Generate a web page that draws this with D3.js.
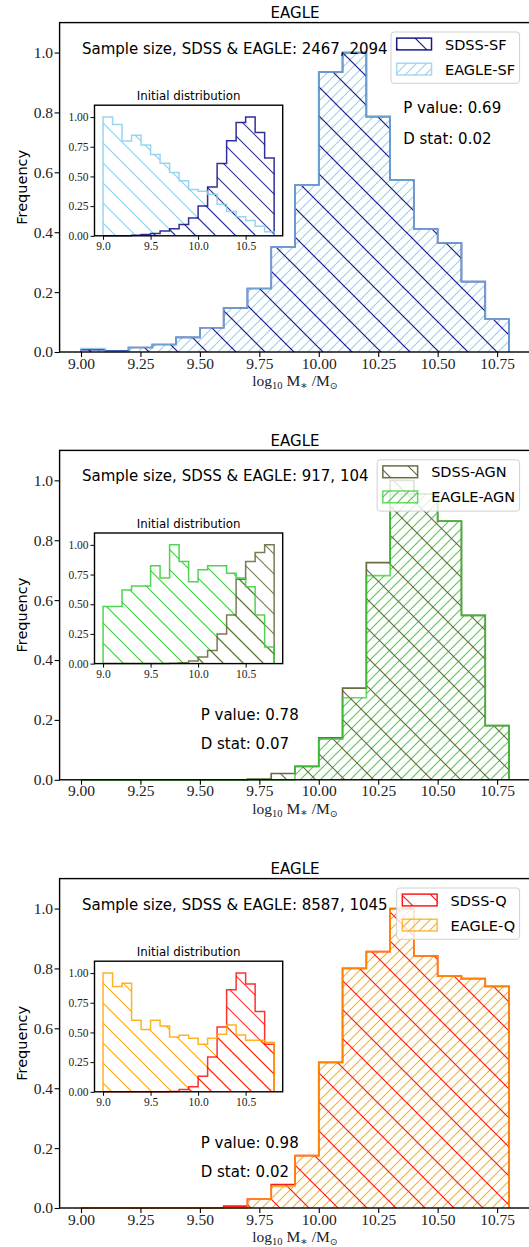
<!DOCTYPE html>
<html>
<head>
<meta charset="utf-8">
<script src="https://cdn.jsdelivr.net/npm/d3@7"></script>
<style>
  html, body { margin: 0; padding: 0; background: #fff; }
  svg { display: block; }
</style>
</head>
<body>
<svg id="fig" width="529" height="1247"></svg>
<script>
// ---- data -------------------------------------------------------------
// left edges of the 0.1 dex stellar-mass bins
const binStarts = [9.0, 9.1, 9.2, 9.3, 9.4, 9.5, 9.6, 9.7, 9.8, 9.9,
                   10.0, 10.1, 10.2, 10.3, 10.4, 10.5, 10.6, 10.7];
const binWidth = 0.1;

// star-forming: matched samples (main) and initial distributions (inset)
const sfSdssMain  = [0.008, 0.004, 0.015, 0.025, 0.049, 0.081, 0.147, 0.212, 0.350, 0.557,
                     0.935, 1.000, 0.786, 0.574, 0.410, 0.364, 0.235, 0.110];
const sfEagleMain = [0.011, 0.002, 0.015, 0.025, 0.049, 0.081, 0.147, 0.212, 0.350, 0.557,
                     0.935, 1.000, 0.786, 0.574, 0.410, 0.364, 0.235, 0.110];
const sfSdssInit  = [0.0, 0.001, 0.001, 0.005, 0.010, 0.020, 0.040, 0.060, 0.095, 0.150,
                     0.250, 0.410, 0.610, 0.800, 0.955, 1.000, 0.870, 0.655];
const sfEagleInit = [1.000, 0.938, 0.798, 0.846, 0.764, 0.684, 0.612, 0.534, 0.463, 0.391,
                     0.376, 0.350, 0.266, 0.204, 0.160, 0.128, 0.080, 0.035];

// AGN
const agnSdssMain  = [0, 0, 0, 0, 0, 0, 0, 0.002, 0.021, 0.045,
                      0.140, 0.306, 0.725, 1.000, 0.955, 0.864, 0.549, 0.181];
const agnEagleMain = [0, 0, 0, 0, 0, 0, 0, 0, 0, 0.045,
                      0.136, 0.274, 0.682, 0.955, 0.955, 0.864, 0.549, 0.181];
const agnSdssInit  = [0, 0, 0, 0, 0, 0, 0, 0.002, 0.008, 0.022,
                      0.056, 0.110, 0.250, 0.410, 0.710, 0.860, 0.936, 1.000];
const agnEagleInit = [0.480, 0.480, 0.620, 0.654, 0.654, 0.824, 0.720, 1.000, 0.860, 0.690,
                      0.790, 0.824, 0.824, 0.760, 0.720, 0.648, 0.410, 0.140];

// quenched
const qSdssMain  = [0, 0, 0, 0, 0, 0, 0.006, 0.030, 0.078, 0.175,
                    0.486, 0.800, 0.856, 1.000, 0.842, 0.774, 0.766, 0.740];
const qEagleMain = [0, 0, 0, 0, 0, 0, 0, 0.030, 0.072, 0.175,
                    0.486, 0.800, 0.856, 1.000, 0.842, 0.774, 0.766, 0.740];
const qSdssInit  = [0, 0, 0, 0, 0, 0, 0, 0.003, 0.020, 0.042,
                    0.130, 0.293, 0.546, 0.859, 1.000, 0.907, 0.676, 0.400];
const qEagleInit = [1.000, 0.887, 0.915, 0.603, 0.524, 0.603, 0.555, 0.462, 0.476, 0.451,
                    0.400, 0.451, 0.485, 0.563, 0.479, 0.434, 0.434, 0.417];

const mainXTicks = [9.00, 9.25, 9.50, 9.75, 10.00, 10.25, 10.50, 10.75];
const mainYTicks = [0.0, 0.2, 0.4, 0.6, 0.8, 1.0];
const insetXTicks = [9.0, 9.5, 10.0, 10.5];
const insetYTicks = [0.00, 0.25, 0.50, 0.75, 1.00];

const panelTitle = "EAGLE";
const insetTitle = "Initial distribution";
const yLabel = "Frequency";

const sampleTexts = ["Sample size, SDSS & EAGLE: 2467, 2094",
                     "Sample size, SDSS & EAGLE: 917, 104",
                     "Sample size, SDSS & EAGLE: 8587, 1045"];
const pValueTexts = ["P value: 0.69", "P value: 0.78", "P value: 0.98"];
const dStatTexts  = ["D stat: 0.02", "D stat: 0.07", "D stat: 0.02"];
const legendNames = [["SDSS-SF", "EAGLE-SF"], ["SDSS-AGN", "EAGLE-AGN"], ["SDSS-Q", "EAGLE-Q"]];

// ---- layout / style ----------------------------------------------------
const SANS = "'DejaVu Sans', sans-serif";
const SERIF = "'Liberation Serif', 'DejaVu Serif', serif";
const AX_L = 59.6, AX_R = 530.4, AX_H = 329.4;
const X_DOMAIN = [8.91, 10.89], Y_DOMAIN = [0, 1.1];
const IN_L = 94.5, IN_R = 282.7, IN_TOP = 82.6, IN_H = 130.6;

const panels = [
  { top: 22.6, sdss: sfSdssMain, eagle: sfEagleMain, sdssInit: sfSdssInit, eagleInit: sfEagleInit,
    sdssColor: "#000080", eagleColor: "#87ceeb", statX: 403.2, statY: [90.8, 121.1] },
  { top: 450.4, sdss: agnSdssMain, eagle: agnEagleMain, sdssInit: agnSdssInit, eagleInit: agnEagleInit,
    sdssColor: "#5a5c2c", eagleColor: "#32cd32", statX: 200.7, statY: [269.3, 299.0] },
  { top: 878.6, sdss: qSdssMain, eagle: qEagleMain, sdssInit: qSdssInit, eagleInit: qEagleInit,
    sdssColor: "#ff0000", eagleColor: "#ffa500", statX: 200.7, statY: [269.0, 298.7] }
];
panels.forEach((p, i) => {
  p.sample = sampleTexts[i]; p.pval = pValueTexts[i]; p.dstat = dStatTexts[i]; p.names = legendNames[i];
});

const SDSS_ALPHA = 0.9, EAGLE_ALPHA = 0.75, EAGLE_HATCH_ALPHA = 0.9;
const MAIN_BACK = 29, MAIN_FWD = 10, INSET_BACK = 20;

const svg = d3.select("#fig");
const defs = svg.append("defs");

// diagonal hatch patterns: 'back' = "\" lines, 'fwd' = "/" lines
function hatch(id, color, s, dir, width) {
  const p = defs.append("pattern").attr("id", id)
    .attr("patternUnits", "userSpaceOnUse")
    .attr("width", s).attr("height", s);
  const d = dir === "back"
    ? `M${-s / 2},${s / 2}L${s / 2},${1.5 * s}M0,0L${s},${s}M${s / 2},${-s / 2}L${1.5 * s},${s / 2}`
    : `M${-s / 2},${s / 2}L${s / 2},${-s / 2}M0,${s}L${s},0M${s / 2},${1.5 * s}L${1.5 * s},${s / 2}`;
  p.append("path").attr("d", d).attr("fill", "none")
    .attr("stroke", color).attr("stroke-width", width);
  return `url(#${id})`;
}

// outline of a step histogram (open at the baseline)
function stepPoints(values, x, y) {
  const pts = [[x(binStarts[0]), y(0)]];
  values.forEach((v, i) => {
    pts.push([x(binStarts[i]), y(v)]);
    pts.push([x(binStarts[i] + binWidth), y(v)]);
  });
  pts.push([x(binStarts[binStarts.length - 1] + binWidth), y(0)]);
  return pts;
}
const lineGen = d3.line();

// two overlaid histograms: hatches first (light one underneath), outlines on top
function drawPair(g, under, over, x, y, lw) {
  [under, over].forEach(h => {
    g.append("path").attr("d", lineGen(stepPoints(h.values, x, y)) + "Z")
      .attr("fill", h.pattern).attr("stroke", "none").attr("opacity", h.hatchAlpha);
  });
  [over, under].forEach(h => {
    g.append("path").attr("d", lineGen(stepPoints(h.values, x, y)))
      .attr("fill", "none").attr("stroke", h.color)
      .attr("stroke-width", lw).attr("stroke-opacity", h.edgeAlpha);
  });
}

function fmtTick(v, digits) { return v.toFixed(digits); }

panels.forEach((p, pi) => {
  const top = p.top, bottom = top + AX_H;
  const g = svg.append("g");
  const x = d3.scaleLinear().domain(X_DOMAIN).range([AX_L, AX_R]);
  const y = d3.scaleLinear().domain(Y_DOMAIN).range([bottom, top]);

  const pSdss = hatch(`hs${pi}`, p.sdssColor, MAIN_BACK, "back", 1.2);
  const pEagle = hatch(`he${pi}`, p.eagleColor, MAIN_FWD, "fwd", 1.1);
  const pSdssIn = hatch(`his${pi}`, p.sdssColor, INSET_BACK, "back", 1.1);
  const pEagleIn = hatch(`hie${pi}`, p.eagleColor, INSET_BACK, "back", 1.15);

  // main histograms
  const plot = g.append("g");
  drawPair(plot,
    { values: p.eagle, color: p.eagleColor, pattern: pEagle, hatchAlpha: EAGLE_HATCH_ALPHA, edgeAlpha: EAGLE_ALPHA },
    { values: p.sdss, color: p.sdssColor, pattern: pSdss, hatchAlpha: SDSS_ALPHA, edgeAlpha: SDSS_ALPHA },
    x, y, 1.7);

  // main axes
  const xAxis = d3.axisBottom(x).tickValues(mainXTicks).tickFormat(d => fmtTick(d, 2))
    .tickSize(5).tickPadding(2);
  const yAxis = d3.axisLeft(y).tickValues(mainYTicks).tickFormat(d => fmtTick(d, 1))
    .tickSize(5).tickPadding(1.5);
  const gx = g.append("g").attr("transform", `translate(0,${bottom})`).call(xAxis);
  const gy = g.append("g").attr("transform", `translate(${AX_L},0)`).call(yAxis);
  [gx, gy].forEach(a => {
    a.select(".domain").remove();
    a.selectAll(".tick line").attr("stroke", "#000").attr("stroke-width", 1.1);
    a.selectAll(".tick text").attr("font-family", SERIF).attr("font-size", 15.5).attr("fill", "#222");
  });
  gx.selectAll(".tick text").attr("dy", "0.62em");

  g.append("rect").attr("x", AX_L).attr("y", top).attr("width", AX_R - AX_L).attr("height", AX_H)
    .attr("fill", "none").attr("stroke", "#000").attr("stroke-width", 1.4);

  // titles and axis labels
  g.append("text").attr("x", (AX_L + AX_R) / 2).attr("y", top - 4.8).attr("text-anchor", "middle")
    .attr("font-family", SANS).attr("font-size", 15).text(panelTitle);
  g.append("text").attr("transform", `translate(26.5,${(top + bottom) / 2}) rotate(-90)`)
    .attr("text-anchor", "middle").attr("font-family", SANS).attr("font-size", 14.5).text(yLabel);

  const xl = g.append("text").attr("x", (AX_L + AX_R) / 2).attr("y", bottom + 34)
    .attr("text-anchor", "middle").attr("font-family", SERIF).attr("font-size", 15.5).attr("fill", "#222");
  xl.append("tspan").text("log");
  xl.append("tspan").attr("font-size", 10.5).attr("dy", 3).text("10");
  xl.append("tspan").attr("dy", -3).text(" M");
  xl.append("tspan").attr("font-size", 11).attr("dy", 2.5).text("∗");
  xl.append("tspan").attr("dy", -2.5).text(" /M");
  xl.append("tspan").attr("font-size", 9.5).attr("dy", 3).attr("font-family", "'DejaVu Sans'").text("⊙");

  // inset: initial distributions
  const iTop = top + IN_TOP, iBot = iTop + IN_H;
  const ix = d3.scaleLinear().domain(X_DOMAIN).range([IN_L, IN_R]);
  const iy = d3.scaleLinear().domain(Y_DOMAIN).range([iBot, iTop]);
  const ig = g.append("g");
  ig.append("rect").attr("x", IN_L).attr("y", iTop).attr("width", IN_R - IN_L).attr("height", IN_H)
    .attr("fill", "#fff");
  drawPair(ig,
    { values: p.eagleInit, color: p.eagleColor, pattern: pEagleIn, hatchAlpha: 0.95, edgeAlpha: EAGLE_ALPHA + 0.1 },
    { values: p.sdssInit, color: p.sdssColor, pattern: pSdssIn, hatchAlpha: SDSS_ALPHA * 0.9, edgeAlpha: SDSS_ALPHA * 0.9 },
    ix, iy, 1.5);

  const ixAxis = d3.axisBottom(ix).tickValues(insetXTicks).tickFormat(d => fmtTick(d, 1))
    .tickSize(4).tickPadding(2);
  const iyAxis = d3.axisLeft(iy).tickValues(insetYTicks).tickFormat(d => fmtTick(d, 2))
    .tickSize(4).tickPadding(2);
  const igx = ig.append("g").attr("transform", `translate(0,${iBot})`).call(ixAxis);
  const igy = ig.append("g").attr("transform", `translate(${IN_L},0)`).call(iyAxis);
  [igx, igy].forEach(a => {
    a.select(".domain").remove();
    a.selectAll(".tick line").attr("stroke", "#000").attr("stroke-width", 1);
    a.selectAll(".tick text").attr("font-family", SERIF).attr("font-size", 11.5).attr("fill", "#222");
  });
  igx.selectAll(".tick text").attr("dy", "0.75em");
  ig.append("rect").attr("x", IN_L).attr("y", iTop).attr("width", IN_R - IN_L).attr("height", IN_H)
    .attr("fill", "none").attr("stroke", "#000").attr("stroke-width", 1.4);
  ig.append("text").attr("x", (IN_L + IN_R) / 2).attr("y", iTop - 5).attr("text-anchor", "middle")
    .attr("font-family", SANS).attr("font-size", 11.8).text(insetTitle);

  // annotations
  g.append("text").attr("x", 82).attr("y", top + 31).attr("font-family", SANS).attr("font-size", 15)
    .text(p.sample);
  g.append("text").attr("x", p.statX).attr("y", top + p.statY[0]).attr("font-family", SANS)
    .attr("font-size", 15).text(p.pval);
  g.append("text").attr("x", p.statX).attr("y", top + p.statY[1]).attr("font-family", SANS)
    .attr("font-size", 15).text(p.dstat);

  // legend
  const lg = g.append("g");
  const LFS = 14.5;
  const tmp = lg.selectAll("text.m").data(p.names).enter().append("text")
    .attr("font-family", SANS).attr("font-size", LFS).text(d => d);
  const maxW = d3.max(tmp.nodes(), n => n.getComputedTextLength());
  tmp.remove();
  const boxR = 519.6, boxTop = top + 9.4, boxH = 51.3;
  const boxL = boxR - 4.5 - maxW - 13.5 - 34.8 - 5.7;
  lg.append("rect").attr("x", boxL).attr("y", boxTop).attr("width", boxR - boxL).attr("height", boxH)
    .attr("rx", 3).attr("fill", "#fff").attr("fill-opacity", 0.8)
    .attr("stroke", "#d0d0d0").attr("stroke-width", 1);
  const entries = [
    { name: p.names[0], color: p.sdssColor, pat: pSdss, ha: SDSS_ALPHA, ea: SDSS_ALPHA, dy: 6.1 },
    { name: p.names[1], color: p.eagleColor, pat: pEagle, ha: EAGLE_HATCH_ALPHA, ea: EAGLE_ALPHA, dy: 31.2 }
  ];
  entries.forEach(e => {
    const px = boxL + 5.7, py = boxTop + e.dy;
    lg.append("rect").attr("x", px).attr("y", py).attr("width", 34.8).attr("height", 11.8)
      .attr("fill", e.pat).attr("fill-opacity", e.ha)
      .attr("stroke", e.color).attr("stroke-width", 1.5).attr("stroke-opacity", e.ea);
    lg.append("text").attr("x", px + 34.8 + 13.5).attr("y", py + 11.4)
      .attr("font-family", SANS).attr("font-size", LFS).text(e.name);
  });
});
</script>
</body>
</html>
